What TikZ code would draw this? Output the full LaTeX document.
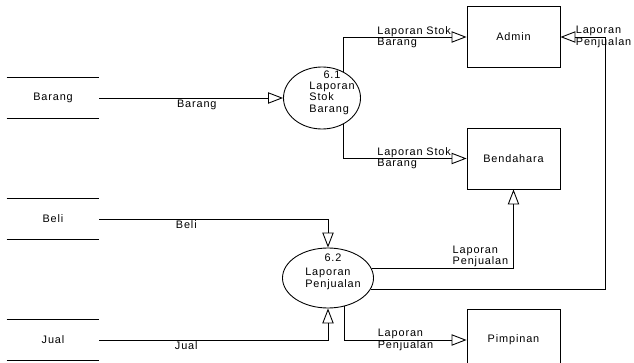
\documentclass[tikz,border=0pt]{standalone}
\usepackage{fontspec}
\newfontfamily\dfdfont[LetterSpace=8]{Liberation Sans}
\usetikzlibrary{arrows.meta,shapes.geometric}
\tikzset{
  store/.style={minimum width=2.76cm,minimum height=1.2cm,inner sep=0pt},
  entity/.style={draw,minimum width=2.79cm,minimum height=1.83cm,inner sep=0pt},
  proc/.style={draw,ellipse,inner sep=0pt},
  flow/.style={-{Triangle[open,length=0.45cm,width=0.34cm]}},
  lbl/.style={inner sep=1pt,align=left}
}
\begin{document}
\begin{tikzpicture}[x=0.03cm,y=-0.03cm,line width=0.75pt,font=\dfdfont\fontsize{9.3}{9.6}\selectfont]
\useasboundingbox (0,0) rectangle (634,363);
% data store
\node[store] (sbarang) at (53,98) {Barang};
\node[store] (sbeli) at (53,219) {Beli};
\node[store] (sjual) at (53,340) {Jual};
\foreach \s in {sbarang,sbeli,sjual}{
  \draw (\s.north west) -- (\s.north east);
  \draw (\s.south west) -- (\s.south east);
}
% proses
\node[proc,minimum width=2.31cm,minimum height=1.86cm] (p61) at (322,98) {};
\node (t61) at (332,93) {\begin{tabular}{@{}l@{}}\multicolumn{1}{@{}c@{}}{6.1}\\Laporan\\Stok\\Barang\end{tabular}};
\node[proc,minimum width=2.73cm,minimum height=1.8cm] (p62) at (328,278) {};
\node (t62) at (333,272) {\begin{tabular}{@{}l@{}}\multicolumn{1}{@{}c@{}}{6.2}\\[3pt]Laporan\\Penjualan\end{tabular}};
% entitas
\node[entity] (admin) at (513.5,37) {Admin};
\node[entity] (bend) at (513.5,158.5) {Bendahara};
\node[entity] (pimp) at (513.5,340) {Pimpinan};
\coordinate (kanan) at (605,37);
% aliran data
\draw[flow] (sbarang.east) -- node[lbl,below,pos=0.53] (lbarang) {Barang} (p61.west);
\draw[flow] (p61.50) |- node[lbl,pos=0.63,anchor=west] (l1) {Laporan Stok\\Barang} (admin.west);
\draw[flow] (p61.-50) |- node[lbl,pos=0.63,anchor=west] (l2) {Laporan Stok\\Barang} (bend.west);
\draw[flow] (sbeli.east) -| node[lbl,below,pos=0.19] (lbeli) {Beli} (p62.north);
\draw[flow] (sjual.east) -| node[lbl,below,pos=0.19] (ljual) {Jual} (p62.south);
\draw[flow] (p62.12) -| node[lbl,pos=0.28,anchor=south west] (l3) {Laporan\\Penjualan} (bend.south);
\draw[flow] (p62.-15) -| (kanan) -- node[lbl,pos=0.69,anchor=west] (l4) {Laporan\\Penjualan} (admin.east);
\draw[flow] (p62.-60) |- node[lbl,pos=0.63,anchor=west] (l5) {Laporan\\Penjualan} (pimp.west);
\end{tikzpicture}
\end{document}
